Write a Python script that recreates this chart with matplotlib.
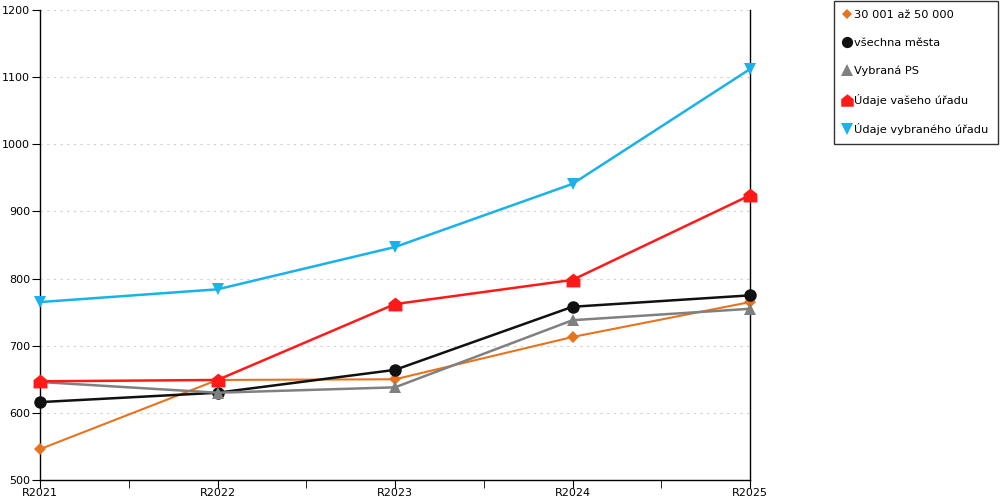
import matplotlib.pyplot as plt
import matplotlib.ticker as ticker
from matplotlib.path import Path
import numpy as np

years = ["R2021", "R2022", "R2023", "R2024", "R2025"]
mesta_30_50 = [546, 649, 650, 713, 765]
vsechna_mesta = [616, 630, 664, 758, 775]
vybrana_ps = [646, 630, 638, 738, 755]
vas_urad = [647, 649, 762, 798, 924]
vybrany_urad = [765, 784, 847, 941, 1112]

# house-shaped marker for "Údaje vašeho úřadu"
house = Path([(-1, -1), (1, -1), (1, 0.2), (0, 1), (-1, 0.2), (-1, -1)],
             [Path.MOVETO, Path.LINETO, Path.LINETO, Path.LINETO, Path.LINETO, Path.CLOSEPOLY])

plt.rcParams['font.family'] = ['DejaVu Sans']
fig = plt.figure(figsize=(10, 5), dpi=100)
ax = fig.add_axes([0.04, 0.04, 0.71, 0.94])

x = np.arange(len(years))
series = [
    (mesta_30_50, "30 001 až 50 000", "#E8731E", "D", 6, 1.5),
    (vsechna_mesta, "všechna města", "#111111", "o", 9, 1.8),
    (vybrana_ps, "Vybraná PS", "#808080", "^", 9, 1.8),
    (vas_urad, "Údaje vašeho úřadu", "#FF1A1A", house, 10, 1.8),
    (vybrany_urad, "Údaje vybraného úřadu", "#1AB2EA", "v", 9, 1.8),
]
for vals, label, color, marker, ms, lw in series:
    ax.plot(x, vals, color=color, marker=marker, markersize=ms, linewidth=lw,
            label=label, markeredgewidth=0, clip_on=False, zorder=3)

ax.set_xlim(0, 4)
ax.set_ylim(500, 1200)
ax.set_xticks(x)
ax.set_xticklabels(years)
ax.xaxis.set_minor_locator(ticker.MultipleLocator(0.5))
ax.yaxis.set_major_locator(ticker.MultipleLocator(100))
ax.tick_params(axis='both', which='both', direction='out', length=6, labelsize=8, pad=1)
ax.tick_params(axis='x', which='both', length=6, pad=0)
ax.grid(True, axis='y', linestyle=(0, (2, 4)), color='#cfcfcf', linewidth=0.8)
ax.spines['top'].set_visible(False)
for s in ['left', 'right', 'bottom']:
    ax.spines[s].set_linewidth(1.0)
    ax.spines[s].set_color('black')

leg = fig.legend(loc='upper left', bbox_to_anchor=(0.834, 0.998), frameon=True,
                 fancybox=False, edgecolor='black', fontsize=8.2, labelspacing=1.55,
                 handlelength=0.7, handletextpad=0.3, borderpad=0.8,
                 borderaxespad=0, markerscale=0.9)
for h in leg.legend_handles:
    h.set_linestyle('none')
leg.get_frame().set_linewidth(1.0)

plt.savefig("out.png", dpi=100)
